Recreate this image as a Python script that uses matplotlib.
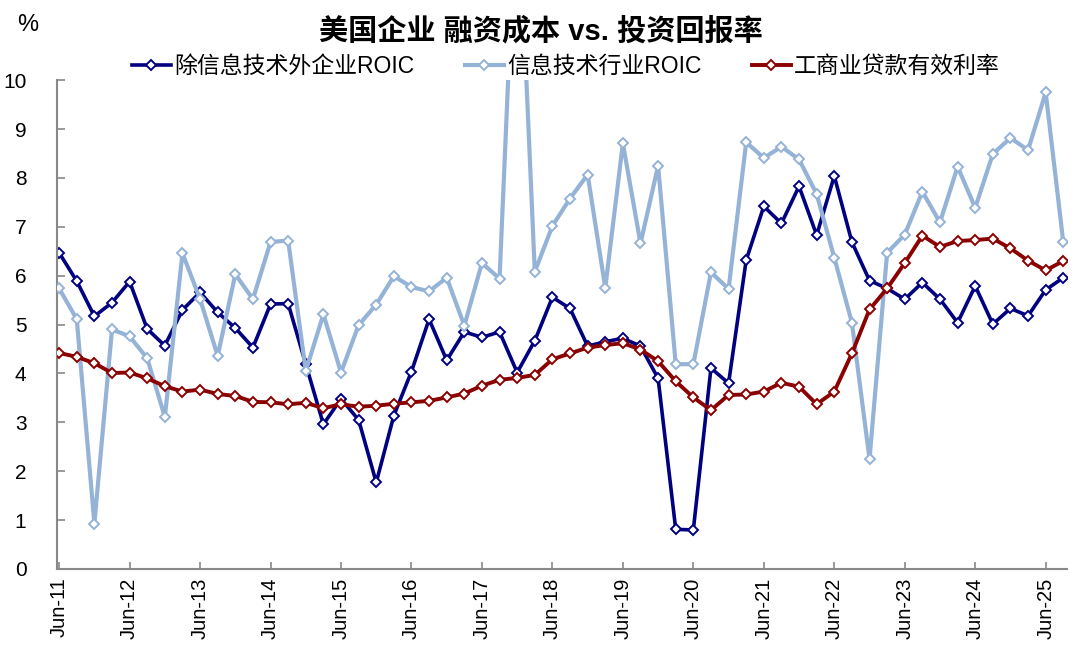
import numpy as np
import pandas as pd
import matplotlib
matplotlib.use('Agg')
from matplotlib import pyplot as plt

plt.rcParams['font.family'] = ['Liberation Sans', 'Noto Sans CJK SC', 'DejaVu Sans']

# quarterly, Jun-11 .. Sep-25
dates = pd.date_range('2011-06-30', '2025-09-30', freq='QE-DEC')

roic_ex_it = [6.47, 5.89, 5.17, 5.45, 5.88, 4.91, 4.57, 5.30, 5.66, 5.25,
              4.93, 4.53, 5.42, 5.43, 4.19, 2.96, 3.48, 3.05, 1.77, 3.14,
              4.04, 5.11, 4.27, 4.85, 4.74, 4.85, 4.02, 4.67, 5.56, 5.33,
              4.56, 4.65, 4.72, 4.56, 3.90, 0.81, 0.80, 4.11, 3.80, 6.32,
              7.42, 7.07, 7.83, 6.83, 8.04, 6.69, 5.90, 5.74, 5.52, 5.86,
              5.52, 5.04, 5.79, 5.01, 5.33, 5.18, 5.71, 5.96]
roic_it = [5.74, 5.11, 0.93, 4.90, 4.76, 4.31, 3.11, 6.46, 5.52, 4.36,
           6.03, 5.52, 6.69, 6.72, 4.05, 5.21, 4.02, 4.99, 5.41, 5.99,
           5.77, 5.68, 5.96, 4.98, 6.26, 5.94, 14.3, 6.08, 7.02, 7.58,
           8.07, 5.75, 8.71, 6.66, 8.25, 4.19, 4.19, 6.07, 5.73, 8.73,
           8.41, 8.64, 8.38, 7.67, 6.37, 5.04, 2.25, 6.47, 6.84, 7.72,
           7.09, 8.23, 7.39, 8.49, 8.82, 8.57, 9.75, 6.68]
loan_rate = [4.42, 4.34, 4.21, 4.01, 4.02, 3.90, 3.74, 3.63, 3.67, 3.58,
             3.54, 3.42, 3.41, 3.37, 3.40, 3.29, 3.37, 3.32, 3.34, 3.38,
             3.41, 3.44, 3.51, 3.59, 3.75, 3.87, 3.91, 3.97, 4.29, 4.41,
             4.53, 4.58, 4.62, 4.49, 4.25, 3.84, 3.51, 3.25, 3.56, 3.57,
             3.63, 3.81, 3.73, 3.37, 3.63, 4.41, 5.31, 5.74, 6.26, 6.82,
             6.59, 6.71, 6.73, 6.76, 6.56, 6.31, 6.11, 6.30]

names = ['除信息技术外企业ROIC', '信息技术行业ROIC', '工商业贷款有效利率']
colors = ['#000080', '#95b3d7', '#8b0000']

x = np.arange(len(roic_ex_it))
tick_pos = x[::4]
tick_labels = [d.strftime('%b-%y') for d in dates][::4]

fig = plt.figure(figsize=(10.8, 6.63), dpi=100)
ax = fig.add_axes([0.0528, 0.1418, 0.935, 0.7372])

series = [roic_ex_it, roic_it, loan_rate]
widths = [2.6, 3.0, 2.8]
for k in range(3):
    ax.plot(x, series[k], color=colors[k], lw=widths[k], marker='D',
            markersize=5.5, markerfacecolor='white', markeredgecolor=colors[k],
            markeredgewidth=1.4, label=names[k], zorder=2 + k)

ax.set_ylim(0, 10)
ax.set_xlim(-0.12, 57.2)
ax.set_yticks(range(0, 11))
ax.set_xticks(tick_pos)
ax.set_xticklabels(tick_labels, rotation=90, fontsize=14.5)
ax.tick_params(axis='y', labelsize=15, direction='in', length=6, width=1.2,
               color='#888888', pad=22)
ax.tick_params(axis='x', direction='in', length=5, width=1.2, color='#888888', pad=6)
for lab in ax.get_yticklabels():
    lab.set_horizontalalignment('right')
for s in ['top', 'right']:
    ax.spines[s].set_visible(False)
for s in ['left', 'bottom']:
    ax.spines[s].set_color('#888888')
    ax.spines[s].set_linewidth(1.5)

fig.text(0.501, 0.953, '美国企业 融资成本 vs. 投资回报率', ha='center', va='center',
         fontsize=21, fontweight='bold')
fig.text(0.026, 0.962, '%', ha='center', va='center', fontsize=17)

ax.legend(loc='center', bbox_to_anchor=(0.524, 0.9), bbox_transform=fig.transFigure,
          ncol=3, frameon=False, fontsize=16.5, handlelength=1.7, handletextpad=0.15,
          columnspacing=2.2, borderaxespad=0)

plt.savefig('out.png', dpi=100)
